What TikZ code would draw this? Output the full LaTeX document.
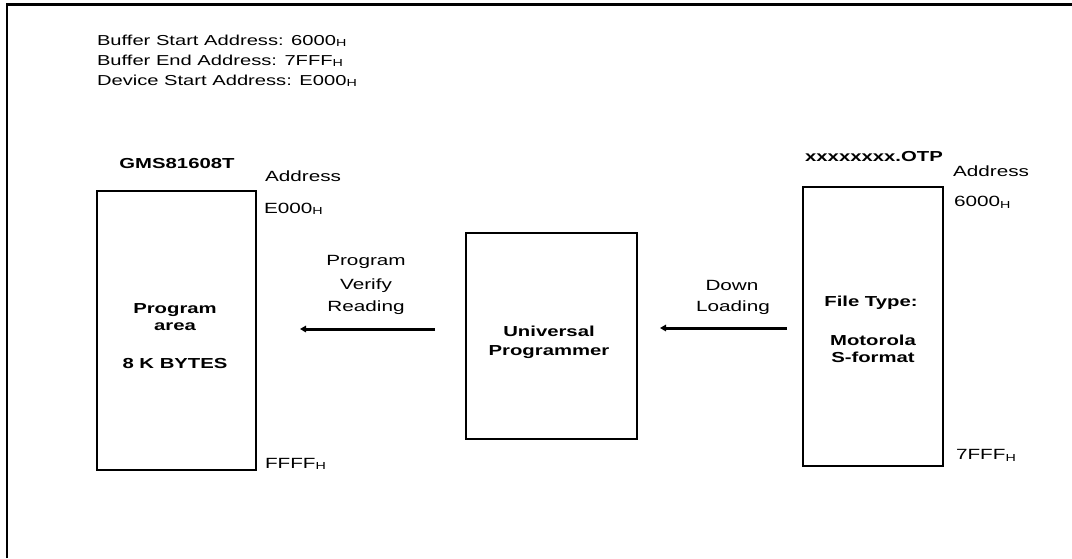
\documentclass[tikz,border=0pt]{standalone}
\usepackage{fontspec}
\usetikzlibrary{arrows.meta}
\newfontfamily\regsp[FakeStretch=1.4]{Liberation Sans}
\newfontfamily\bldsp[FakeStretch=1.4]{Liberation Sans}
\newcommand\Hsub{\raisebox{-1.8pt}{\fontsize{10.2}{10.2}\selectfont H}}
\tikzset{
  every node/.style={inner sep=0pt, outer sep=0pt},
  toptext/.style={anchor=base west, font=\regsp\fontsize{14.4}{20}\selectfont},
  lbl/.style={font=\regsp\fontsize{14.8}{20}\selectfont},
  bold/.style={anchor=base, font=\bldsp\bfseries\fontsize{14.5}{20}\selectfont},
  box/.style={draw, line width=2pt},
  arr/.style={line width=3pt, -{Triangle[length=6pt,width=6.5pt]}},
  frame/.style={line width=2.5pt}
}
\begin{document}
\begin{tikzpicture}[x=1pt,y=-1pt]
\useasboundingbox (0,0) rectangle (1072,558);
% frame
\coordinate (fbl) at (7,558);
\coordinate (ftl) at (7,4.5);
\coordinate (ftr) at (1072,4.5);
\draw[frame] (fbl) -- (ftl) -- (ftr);
% header
\node[toptext] (t1) at (97,45) {Buffer Start Address: 6000\Hsub};
\node[toptext] (t2) at (97,65) {Buffer End Address: 7FFF\Hsub};
\node[toptext] (t3) at (97,85) {Device Start Address: E000\Hsub};
% device box
\node[box, minimum width=159pt, minimum height=279pt] (dev) at (176.5,330) {};
\node[bold] (devname) at (177,168) {GMS81608T};
\node[lbl, anchor=base west] (devaddr) at (265,181) {Address};
\node[lbl, anchor=base west] (devtop) at (264,213) {E000\Hsub};
\node[lbl, anchor=base west] (devbot) at (265,468) {FFFF\Hsub};
\node[bold] (dev1) at (175,313) {Program};
\node[bold] (dev2) at (175,330) {area};
\node[bold] (dev3) at (175,368) {8 K BYTES};
% programmer box
\node[box, minimum width=171pt, minimum height=206pt] (up) at (551,336) {};
\node[bold] (up1) at (549,336) {Universal};
\node[bold] (up2) at (549,355) {Programmer};
% file box
\node[box, minimum width=140pt, minimum height=279pt] (file) at (873,326.5) {};
\node[bold] (filename) at (874,161.5) {xxxxxxxx.OTP};
\node[lbl, anchor=base west] (fileaddr) at (953,176) {Address};
\node[lbl, anchor=base west] (filetop) at (954,206.5) {6000\Hsub};
\node[lbl, anchor=base west] (filebot) at (956,459.5) {7FFF\Hsub};
\node[bold] (file1) at (871,306.5) {File Type:};
\node[bold] (file2) at (873,345) {Motorola};
\node[bold] (file3) at (873,362.5) {S-format};
% arrows
\coordinate (a1s) at (435,329);
\coordinate (a1e) at (300,329);
\draw[arr] (a1s) -- (a1e);
\node[lbl, anchor=base] (l1) at (366,265.5) {Program};
\node[lbl, anchor=base] (l2) at (366,289) {Verify};
\node[lbl, anchor=base] (l3) at (366,311.5) {Reading};
\coordinate (a2s) at (787,328);
\coordinate (a2e) at (660,328);
\draw[arr] (a2s) -- (a2e);
\node[lbl, anchor=base] (l4) at (732,290) {Down};
\node[lbl, anchor=base] (l5) at (733,311.5) {Loading};
\end{tikzpicture}
\end{document}
